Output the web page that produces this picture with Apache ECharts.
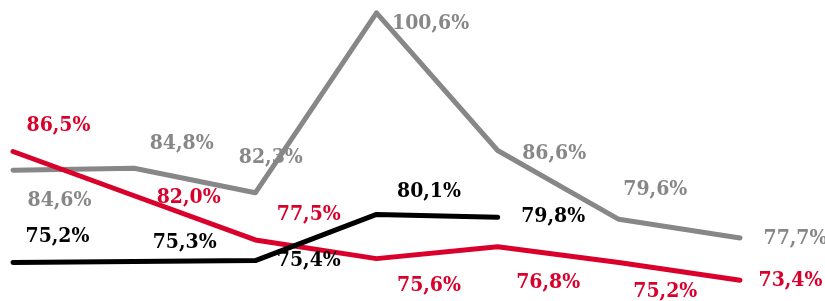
<!DOCTYPE html>
<html>
<head>
<meta charset="utf-8">
<script src="https://cdn.jsdelivr.net/npm/echarts@6/dist/echarts.min.js"></script>
<style>
  html, body { margin: 0; padding: 0; background: #fff; }
  #main { width: 825px; height: 301px; }
</style>
</head>
<body>
<div id="main"></div>
<script>
var categories = ['1', '2', '3', '4', '5', '6', '7'];
var grayValues = [84.6, 84.8, 82.3, 100.6, 86.6, 79.6, 77.7];
var redValues = [86.5, 82.0, 77.5, 75.6, 76.8, 75.2, 73.4];
var blackValues = [75.2, 75.3, 75.4, 80.1, 79.8];

// label offsets [dx, dy] from each point
var grayOffsets = [[14, 30], [15, -25], [-17, -35], [15, 11], [24, 3], [4, -30], [23, 1]];
var redOffsets = [[13, -26], [22, 2], [21, -25], [20, 27], [18, 36], [14, 29], [18, 0]];
var blackOffsets = [[12, -26], [18, -19], [21, 0], [20, -23], [23, -1]];

var GRAY = '#878787';
var RED = '#d9002b';
var BLACK = '#000000';

function fmt(v) {
    return v.toFixed(1).replace('.', ',') + '%';
}

function makeSeries(values, offsets, color) {
    return {
        type: 'line',
        data: values.map(function (v, i) {
            return {
                value: v,
                label: { offset: offsets[i] }
            };
        }),
        symbol: 'circle',
        symbolSize: 1,
        showSymbol: true,
        itemStyle: { color: color },
        lineStyle: { color: color, width: 5, join: 'round', cap: 'round' },
        label: {
            show: true,
            position: 'right',
            distance: 0,
            color: color,
            fontFamily: 'DejaVu Serif Condensed',
            fontWeight: 'bold',
            fontSize: 21,
            formatter: function (p) { return fmt(p.value); }
        },
        animation: false
    };
}

var chart = echarts.init(document.getElementById('main'));

chart.setOption({
    animation: false,
    grid: { left: 13, right: 85, top: 9, bottom: 7 },
    xAxis: {
        type: 'category',
        data: categories,
        boundaryGap: false,
        show: false
    },
    yAxis: {
        type: 'value',
        min: 72,
        max: 101,
        show: false
    },
    series: [
        makeSeries(grayValues, grayOffsets, GRAY),
        makeSeries(redValues, redOffsets, RED),
        makeSeries(blackValues, blackOffsets, BLACK)
    ]
});
</script>
</body>
</html>
